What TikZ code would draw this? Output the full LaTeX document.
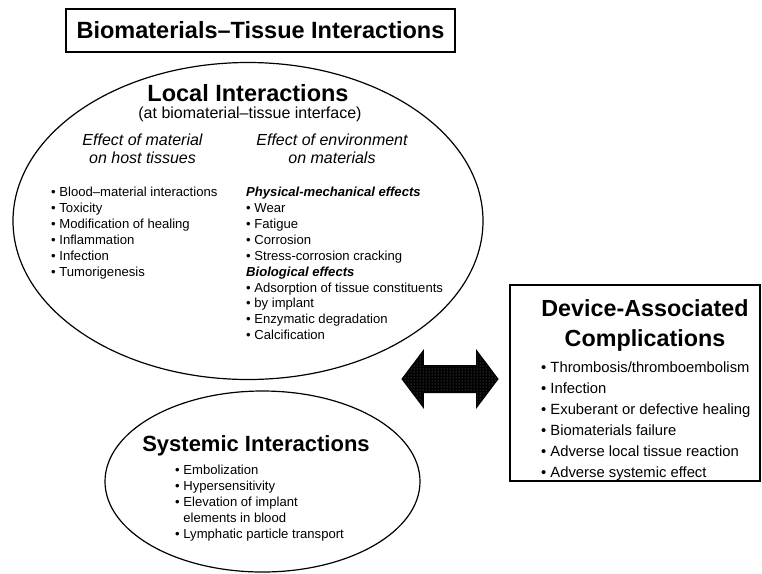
\documentclass[tikz,border=0pt]{standalone}
\usepackage{fontspec}
\setmainfont{Liberation Sans}
\usepackage{tikz}
\usetikzlibrary{positioning,shapes.geometric,shapes.arrows,patterns}
\tikzset{%
	titlebox/.style = {draw, rectangle, line width=1.4pt, font=\bfseries\fontsize{23.5}{28}\selectfont},
	region/.style   = {draw, ellipse, line width=1.2pt, inner sep=0pt},
	devbox/.style   = {draw, rectangle, line width=1.4pt, inner sep=0pt},
	head/.style     = {font=\bfseries\fontsize{22}{26}\selectfont, align=center, inner sep=0pt},
	sub/.style      = {font=\fontsize{16}{20}\selectfont, align=center, inner sep=0pt, anchor=base},
	effect/.style   = {font=\itshape\fontsize{16}{18}\selectfont, align=center, inner sep=0pt},
	items/.style    = {font=\fontsize{13.1}{15.9}\selectfont, align=left, inner sep=0pt, anchor=north west},
	bigitems/.style = {font=\fontsize{14.8}{20.9}\selectfont, align=left, inner sep=0pt, anchor=north west},
}
\newcommand{\itm}{\textbullet\ }

\begin{document}
\begin{tikzpicture}[x=1pt,y=-1pt]
	\useasboundingbox (0,0) rectangle (762,573);
	
	\node[titlebox, minimum width=389pt, minimum height=43pt] (title) at (260.5,30.5) {Biomaterials--Tissue Interactions};
	
	% local interactions
	\node[region, minimum width=470pt, minimum height=317pt] (local) at (248,221) {};
	\node[head, font=\bfseries\fontsize{23.5}{28}\selectfont, anchor=base] (localhead) at (248,101) {Local Interactions};
	\node[sub] (localsub) at (250,118) {(at biomaterial--tissue interface)};
	\node[effect] (matl) at (142.5,149) {Effect of material\\on host tissues};
	\node[effect] (envl) at (332,149) {Effect of environment\\on materials};
	\node[items] (hostlist) at (51,187) {\itm Blood--material interactions\\\itm Toxicity\\\itm Modification of healing\\\itm Inflammation\\\itm Infection\\\itm Tumorigenesis};
	\node[items] (envlist) at (246,187) {\textbf{\textit{Physical-mechanical effects}}\\\itm Wear\\\itm Fatigue\\\itm Corrosion\\\itm Stress-corrosion cracking\\\textbf{\textit{Biological effects}}\\\itm Adsorption of tissue constituents\\\itm by implant\\\itm Enzymatic degradation\\\itm Calcification};
	
	% systemic interactions
	\node[region, minimum width=315pt, minimum height=181pt] (systemic) at (262.5,481.5) {};
	\node[head] (syshead) at (256,446) {Systemic Interactions};
	\node[items] (syslist) at (175,465) {\itm Embolization\\\itm Hypersensitivity\\\itm Elevation of implant\\\phantom{\itm}elements in blood\\\itm Lymphatic particle transport};
	
	% device-associated complications
	\node[devbox, minimum width=250pt, minimum height=196pt] (device) at (635,383) {};
	\node[head, font=\bfseries\fontsize{23.3}{30}\selectfont] (devhead) at (645,325) {Device-Associated\\Complications};
	\node[bigitems] (devlist) at (541,362) {\itm Thrombosis/thromboembolism\\\itm Infection\\\itm Exuberant or defective healing\\\itm Biomaterials failure\\\itm Adverse local tissue reaction\\\itm Adverse systemic effect};
	
	\node[double arrow, draw, line width=1pt, preaction={fill=black}, pattern=dots, pattern color=gray, minimum height=96pt, double arrow head extend=15pt, double arrow tip angle=106, inner xsep=0pt, inner ysep=13pt] (arrow) at (450,379) {};
\end{tikzpicture}
\end{document}
